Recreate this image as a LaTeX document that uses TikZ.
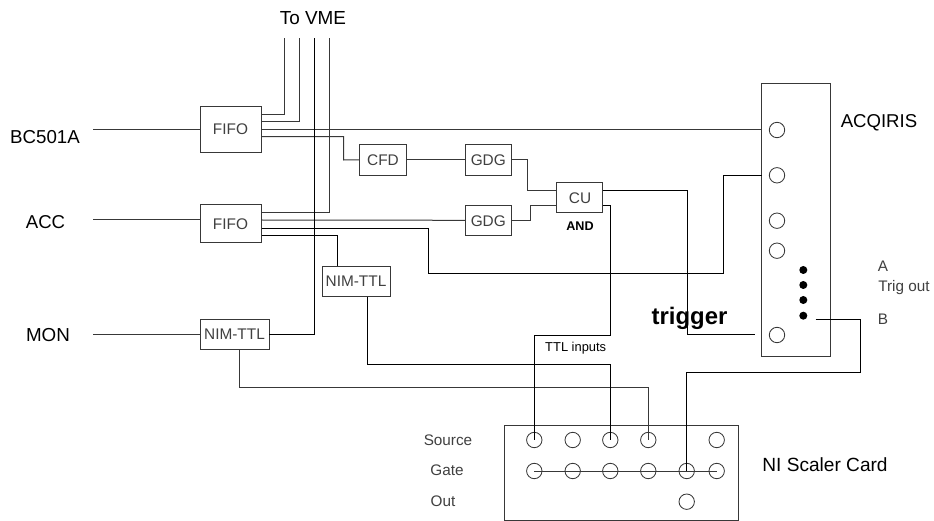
\documentclass[tikz,border=0pt]{standalone}
\usepackage{fontspec}
\setmainfont{Liberation Sans}
\definecolor{wireg}{gray}{0.22}
\definecolor{txtg}{gray}{0.25}
\newcommand{\fs}[1]{\fontsize{#1}{#1}\selectfont}
\tikzset{
  x=1pt,y=-1pt,
  wire/.style={draw=wireg,line width=1pt},
  bwire/.style={draw=black,line width=0.85pt},
  box/.style={draw=wireg,line width=1pt,rectangle,inner sep=0pt,outer sep=0pt,text=txtg,font=\fs{15.4}},
  port/.style={draw=wireg,line width=0.85pt,circle,inner sep=0pt,outer sep=0pt,minimum size=15.4pt},
  dotpin/.style={fill=black,circle,inner sep=0pt,outer sep=0pt,minimum size=8pt},
  lab/.style={inner sep=0pt,text=black},
  small/.style={inner sep=0pt,text=txtg,font=\fs{15.3}},
}
\begin{document}
\begin{tikzpicture}
\useasboundingbox[fill=white] (0,0) rectangle (934,521);
% boxes
\node[box,minimum width=61pt,minimum height=45.6pt] (fifoA) at (231.2,129.5) {};
\node[box,minimum width=61pt,minimum height=38pt] (fifoB) at (231.2,224) {};
\node[box,minimum width=68.3pt,minimum height=30pt] (nimA) at (235.1,334.7) {};
\node[box,minimum width=68.4pt,minimum height=30.4pt] (nimB) at (356.5,281.5) {};
\node[box,minimum width=46.6pt,minimum height=30.3pt] (cfd) at (382.8,159.9) {};
\node[box,minimum width=46.3pt,minimum height=30.3pt] (gdgA) at (488.8,159.9) {};
\node[box,minimum width=46.3pt,minimum height=30pt] (gdgB) at (488.8,220.3) {};
\node[box,minimum width=45.7pt,minimum height=30pt] (cu) at (579.8,198) {};
\node[box,minimum width=68.6pt,minimum height=272.3pt] (acq) at (796,219.9) {};
% scaler card: the bottom edge lies at the very foot of the picture
\node[box,minimum width=234.7pt,minimum height=95pt] (card) at (621.6,472.5) {};
% ACQIRIS ports
\node[port] (a1) at (777,130) {};
\node[port] (a2) at (777,175.3) {};
\node[port] (a3) at (777,220.7) {};
\node[port] (a4) at (777,250.7) {};
\node[port] (a5) at (777,335) {};
\node[dotpin] (d1) at (803.3,270) {};
\node[dotpin] (d2) at (803.3,285) {};
\node[dotpin] (d3) at (803.3,300) {};
\node[dotpin] (d4) at (803.3,315.7) {};
% scaler ports
\node[port] (s1) at (534.3,440) {};
\node[port] (s2) at (572.7,440) {};
\node[port] (s3) at (610.3,440) {};
\node[port] (s4) at (648.3,440) {};
\node[port] (s5) at (716.7,440) {};
\node[port] (g1) at (534.3,471) {};
\node[port] (g2) at (572.7,471) {};
\node[port] (g3) at (610.3,471) {};
\node[port] (g4) at (648.3,471) {};
\node[port] (g5) at (686.7,471) {};
\node[port] (g6) at (716.7,471) {};
\node[port] (o1) at (686.7,501.7) {};
% free ends
\coordinate (vme1) at (284.3,38.3);
\coordinate (vme2) at (299.3,38.3);
\coordinate (vme3) at (314.3,38.3);
\coordinate (vme4) at (329.3,38.3);
\coordinate (inA) at (93,130);
\coordinate (inB) at (93,220);
\coordinate (inC) at (93,334.5);
\coordinate (trigEnd) at (755,334.3);
\coordinate (trigOut) at (815.7,319.3);
% inputs
\draw[wire] (inA) -- (inA -| fifoA.west);
\draw[wire] (inB) -- (inB -| fifoB.west);
\draw[wire] (inC) -- (inC -| nimA.west);
% FIFO A
\draw[wire] (fifoA.east |- 0,114.7) -| (vme1);
\draw[wire] (fifoA.east |- 0,122) -| (vme2);
\draw[wire] (fifoA.east |- 0,129.7) -- (acq.west |- 0,129.7);
\draw[wire] (fifoA.east |- 0,136.7) -| (343.7,160) -- (cfd.west);
\draw[wire] (cfd.east) -- (gdgA.west);
\draw[wire] (gdgA.east) -| (527.3,190.3) -- (cu.west |- 0,190.3);
% FIFO B
\draw[wire] (fifoB.east |- 0,213) -| (vme4);
\draw[wire] (fifoB.east |- 0,220) -- (gdgB.west);
\draw[wire] (gdgB.east) -| (530,205.3) -- (cu.west |- 0,205.3);
\draw[bwire] (fifoB.east |- 0,228.3) -| (428,273.3) -| (723.3,175) -- (acq.west |- 0,175);
\draw[bwire] (fifoB.east |- 0,235.3) -| (nimB.north -| 337.3,0);
% NIM-TTL
\draw[bwire] (nimA.east) -| (vme3);
\draw[wire] (nimA.south -| 239.3,0) |- (648.3,387.7) -- (s4.center);
\draw[bwire] (nimB.south -| 367.7,0) |- (610.3,364.3) -- (s3.center);
% CU
\draw[bwire] (cu.east |- 0,190.3) -| (687.7,334.3) -- (trigEnd);
\draw[bwire] (cu.east |- 0,205.3) -| (610.3,335.3) -| (s1.center);
% Trigger out
\draw[bwire] (trigOut) -| (860,372.3) -| (g5.center);
% Gate bus
\draw[wire] (g1.center) -- (g6.center);
% labels in boxes
\node[box,draw=none] (tFifoA) at (230.5,129.5) {FIFO};
\node[box,draw=none] (tFifoB) at (230.5,224) {FIFO};
\node[box,draw=none] (tNimA) at (234.5,334) {NIM-TTL};
\node[box,draw=none] (tNimB) at (356,281) {NIM-TTL};
\node[box,draw=none] (tCfd) at (383,160) {CFD};
\node[box,draw=none] (tGdgA) at (488.3,160) {GDG};
\node[box,draw=none] (tGdgB) at (488.3,221) {GDG};
\node[box,draw=none] (tCu) at (580,198) {CU};
% free labels
\node[lab,font=\fs{18.9}] (tVme) at (313,18) {To VME};
\node[lab,font=\fs{18.7}] (tBc) at (45,137) {BC501A};
\node[lab,font=\fs{18.6}] (tAcc) at (45.5,222) {ACC};
\node[lab,font=\fs{18.8}] (tMon) at (48,335.5) {MON};
\node[lab,font=\fs{12.6}\bfseries] (tAnd) at (580,226) {AND};
\node[lab,font=\fs{12.9}] (tTtl) at (575.7,347.7) {TTL inputs};
\node[lab,font=\fs{23.9}\bfseries] (tTrig) at (689.5,318.5) {trigger};
\node[lab,font=\fs{18.6}] (tAcq) at (879,123) {ACQIRIS};
\node[small] (tA) at (883,266) {A};
\node[small] (tTo) at (904,288) {Trig out};
\node[small] (tB) at (883,319) {B};
\node[small] (tSrc) at (448,440) {Source};
\node[small] (tGate) at (447,470) {Gate};
\node[small] (tOut) at (443,501) {Out};
\node[lab,font=\fs{19.1}] (tCard) at (825,465) {NI Scaler Card};
\end{tikzpicture}
\end{document}
